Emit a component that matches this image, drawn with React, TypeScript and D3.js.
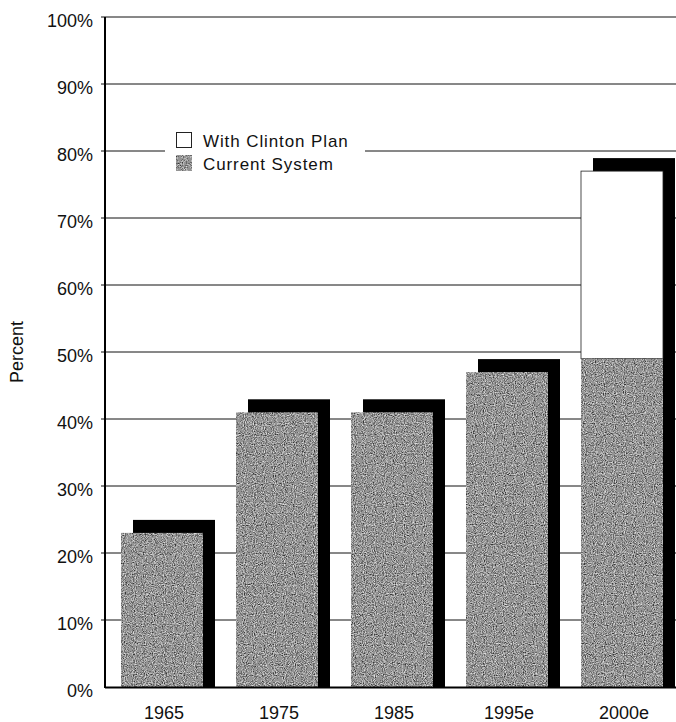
import React from "react";
import * as d3 from "d3";

const categories = ["1965", "1975", "1985", "1995e", "2000e"];
const currentSystem = [23, 41, 41, 47, 49];
const withClinton = [23, 41, 41, 47, 77];
const yTicks = [0, 10, 20, 30, 40, 50, 60, 70, 80, 90, 100];
const legendItems = ["With Clinton Plan", "Current System"];

const W = 676;
const H = 722;
const M = { left: 105, right: 0, top: 17, bottom: 35 };
const FONT = "'Liberation Sans', Arial, Helvetica, sans-serif";

export default function App() {
  const y = d3.scaleLinear().domain([0, 100]).range([H - M.bottom, M.top]);
  const x = d3.scaleBand().domain(categories).range([M.left, M.left + 575]);
  const barOff = 16;
  const barW = 82;
  const shX = 12;
  const shY = 13;
  const base = y(0);

  return (
    <svg width={W} height={H} style={{ position: "absolute", left: 0, top: 0, background: "#fff" }}>
      <defs>
        <filter id="grain" x="0" y="0" width="1" height="1" filterUnits="objectBoundingBox">
          <feTurbulence type="fractalNoise" baseFrequency="0.9" numOctaves="1" seed="4" result="n" />
          <feColorMatrix in="n" type="matrix"
            values="1 0 0 0 0  1 0 0 0 0  1 0 0 0 0  0 0 0 0 1" result="g" />
          <feComponentTransfer in="g" result="d">
            <feFuncR type="discrete" tableValues="0 0.04 0.14 0.3 0.5 0.72 0.92" />
            <feFuncG type="discrete" tableValues="0 0.04 0.14 0.3 0.5 0.72 0.92" />
            <feFuncB type="discrete" tableValues="0 0.04 0.14 0.3 0.5 0.72 0.92" />
          </feComponentTransfer>
          <feComposite in="d" in2="SourceAlpha" operator="in" />
        </filter>
      </defs>

      {/* gridlines */}
      {yTicks.filter((t) => t > 0).map((t) => (
        <line key={t} x1={M.left - 4} x2={W} y1={y(t)} y2={y(t)} stroke="#111" strokeWidth={1} />
      ))}

      {/* y tick labels */}
      {yTicks.map((t) => (
        <text key={t} x={93} y={y(t) + 9.5} textAnchor="end" fontFamily={FONT} fontSize={18} fill="#111">
          {t}%
        </text>
      ))}

      <text transform={`translate(23,${(y(0) + y(100)) / 2}) rotate(-90)`} textAnchor="middle"
        fontFamily={FONT} fontSize={18} fill="#111">Percent</text>

      {/* bars */}
      {categories.map((c, i) => {
        const bx = (x(c) as number) + barOff;
        const top = y(withClinton[i]);
        const cur = y(currentSystem[i]);
        return (
          <g key={c}>
            <rect x={bx + shX} y={top - shY} width={barW} height={base - top + shY} fill="#000" />
            {withClinton[i] > currentSystem[i] && (
              <rect x={bx} y={top} width={barW} height={cur - top} fill="#fff" stroke="#222" strokeWidth={0.8} />
            )}
            <rect x={bx} y={cur} width={barW} height={base - cur} fill="#888" filter="url(#grain)" />
            <text x={bx + barW / 2 + 2} y={H - 3} textAnchor="middle" fontFamily={FONT} fontSize={18} fill="#111">
              {c}
            </text>
          </g>
        );
      })}

      {/* axes */}
      <line x1={M.left} x2={M.left} y1={y(100)} y2={base + 1} stroke="#000" strokeWidth={2} />
      <line x1={M.left} x2={W} y1={base + 0.5} y2={base + 0.5} stroke="#000" strokeWidth={2} />

      {/* legend */}
      <rect x={165} y={124} width={200} height={52} fill="#fff" />
      {legendItems.map((l, i) => (
        <g key={l}>
          <rect x={176.5} y={132.5 + i * 23} width={15} height={15}
            fill={i === 0 ? "#fff" : "#888"} stroke="#222" strokeWidth={1}
            filter={i === 1 ? "url(#grain)" : undefined} />
          <text x={203} y={147 + i * 23} fontFamily={FONT} fontSize={17} letterSpacing={0.9} fill="#111">{l}</text>
        </g>
      ))}
    </svg>
  );
}
